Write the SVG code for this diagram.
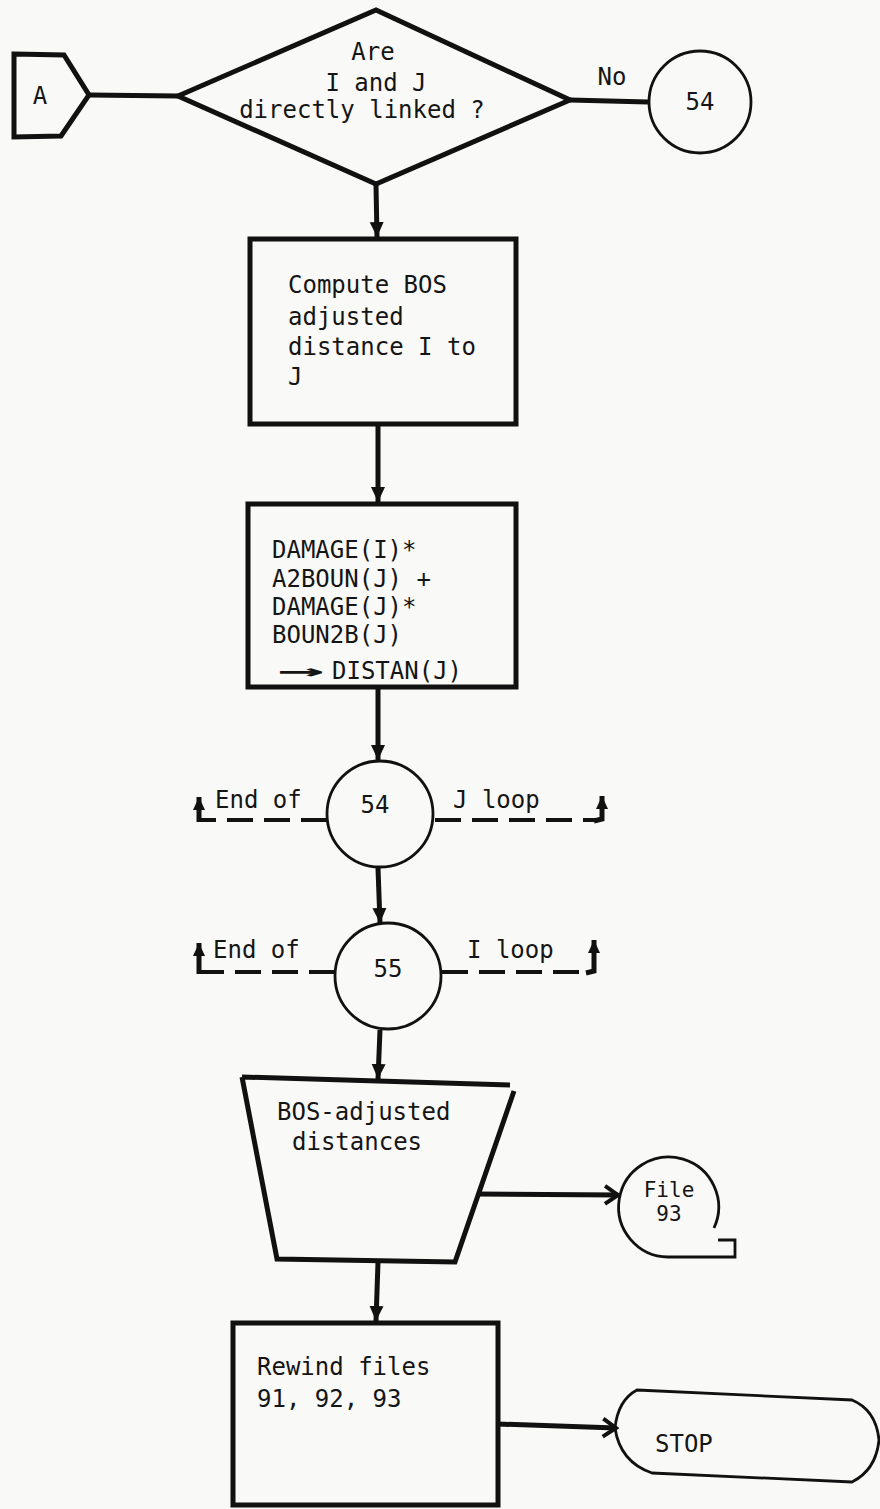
<svg xmlns="http://www.w3.org/2000/svg" width="880" height="1509" viewBox="0 0 880 1509">
<defs>
<style>
.t{font-family:"DejaVu Sans Mono","Liberation Mono",monospace;font-size:24px;fill:#151515}
.ts{font-size:21px}
.thick{fill:none;stroke:#111;stroke-width:5;stroke-linejoin:miter}
.thin{fill:none;stroke:#111;stroke-width:2.8}
.conn{fill:none;stroke:#111;stroke-width:5}
.dash{fill:none;stroke:#111;stroke-width:4;stroke-dasharray:26 11}
</style>
<marker id="ah" markerUnits="userSpaceOnUse" markerWidth="16" markerHeight="16" refX="15" refY="8" orient="auto">
<path d="M0,1 L15,8 L0,15 z" fill="#111"/>
</marker>
<marker id="ahs" markerUnits="userSpaceOnUse" markerWidth="14" markerHeight="14" refX="13" refY="7" orient="auto">
<path d="M0,1 L13,7 L0,13 z" fill="#111"/>
</marker>
<marker id="chev" markerUnits="userSpaceOnUse" markerWidth="20" markerHeight="24" refX="17" refY="12" orient="auto">
<path d="M4,3 L17,12 L4,21" fill="none" stroke="#111" stroke-width="4"/>
</marker>
</defs>
<rect width="880" height="1509" fill="#f9f9f7"/>

<g id="connectors">
<line class="conn" x1="89" y1="95" x2="178" y2="96"/>
<line class="conn" x1="570" y1="100" x2="648" y2="102"/>
<line class="conn" x1="376" y1="185" x2="377" y2="237" marker-end="url(#ah)"/>
<line class="conn" x1="378" y1="425" x2="378" y2="502" marker-end="url(#ah)"/>
<line class="conn" x1="378" y1="688" x2="378" y2="760" marker-end="url(#ah)"/>
<line class="conn" x1="378" y1="868" x2="380" y2="923" marker-end="url(#ah)"/>
<line class="conn" x1="380" y1="1030" x2="378" y2="1079" marker-end="url(#ah)"/>
<line class="conn" x1="477" y1="1194" x2="618" y2="1195" marker-end="url(#chev)"/>
<line class="conn" x1="378" y1="1262" x2="376" y2="1321" marker-end="url(#ah)"/>
<line class="conn" x1="497" y1="1424" x2="616" y2="1428" marker-end="url(#chev)"/>
<path class="dash" d="M327,820 L199,820"/>
<path class="conn" d="M199,822 L199,797" stroke-width="4" marker-end="url(#ahs)"/>
<path class="dash" d="M435,820 L600,820"/>
<path class="conn" d="M594,821 L602,819 L602,796" stroke-width="4" marker-end="url(#ahs)"/>
<path class="dash" d="M335,972 L199,972"/>
<path class="conn" d="M199,974 L199,943" stroke-width="4" marker-end="url(#ahs)"/>
<path class="dash" d="M442,972 L590,972"/>
<path class="conn" d="M586,973 L594,971 L594,940" stroke-width="4" marker-end="url(#ahs)"/>
</g>

<g id="nodeA">
<path class="thick" d="M14,54 L64,55 L89,95 L61,136 L14,137 Z"/>
<text class="t" x="40" y="104" text-anchor="middle">A</text>
</g>

<g id="decision">
<path class="thick" d="M178,96 L376,10 L570,100 L376,184 Z"/>
<text class="t" x="373" y="60" text-anchor="middle">Are</text>
<text class="t" x="376" y="91" text-anchor="middle">I and J</text>
<text class="t" x="362" y="118" text-anchor="middle">directly linked ?</text>
<text class="t" x="612" y="85" text-anchor="middle">No</text>
</g>

<g id="conn54top">
<circle class="thin" cx="700" cy="102" r="51"/>
<text class="t" x="700" y="110" text-anchor="middle">54</text>
</g>

<g id="compute">
<rect class="thick" x="250" y="239" width="266" height="185"/>
<text class="t" x="288" y="293">Compute BOS</text>
<text class="t" x="288" y="325">adjusted</text>
<text class="t" x="288" y="355">distance I to</text>
<text class="t" x="288" y="385">J</text>
</g>

<g id="damage">
<rect class="thick" x="248" y="504" width="268" height="183"/>
<text class="t" x="272" y="558">DAMAGE(I)*</text>
<text class="t" x="272" y="587">A2BOUN(J) +</text>
<text class="t" x="272" y="615">DAMAGE(J)*</text>
<text class="t" x="272" y="643">BOUN2B(J)</text>
<text class="t" x="277" y="679" font-weight="bold" textLength="47" lengthAdjust="spacingAndGlyphs">→</text>
<text class="t" x="332" y="679">DISTAN(J)</text>
</g>

<g id="loop54">
<circle class="thin" cx="380" cy="814" r="53"/>
<text class="t" x="375" y="813" text-anchor="middle">54</text>
<text class="t" x="215" y="808">End of</text>
<text class="t" x="453" y="808">J loop</text>
</g>

<g id="loop55">
<circle class="thin" cx="388" cy="976" r="53"/>
<text class="t" x="388" y="977" text-anchor="middle">55</text>
<text class="t" x="213" y="958">End of</text>
<text class="t" x="467" y="958">I loop</text>
</g>

<g id="output">
<path class="thick" d="M242,1077 L510,1085 M514,1091 L455,1262 L277,1259 L242,1077" stroke-width="4.5"/>
<text class="t" x="277" y="1120">BOS-adjusted</text>
<text class="t" x="292" y="1150">distances</text>
</g>

<g id="file93">
<path class="thin" d="M714,1228 A50,50 0 1 0 668,1257 L735,1257 L735,1240 L718,1240" stroke-width="3"/>
<text class="t ts" x="669" y="1197" text-anchor="middle">File</text>
<text class="t ts" x="669" y="1221" text-anchor="middle">93</text>
</g>

<g id="rewind">
<rect class="thick" x="233" y="1323" width="265" height="182"/>
<text class="t" x="257" y="1375">Rewind files</text>
<text class="t" x="257" y="1407">91, 92, 93</text>
</g>

<g id="stop">
<path class="thin" d="M637,1390 L852,1400 Q876,1410 879,1440 Q876,1470 852,1482 L652,1473 Q620,1462 615,1428 Q618,1400 637,1390 Z" stroke-width="3.2"/>
<text class="t" x="655" y="1452">STOP</text>
</g>
</svg>
